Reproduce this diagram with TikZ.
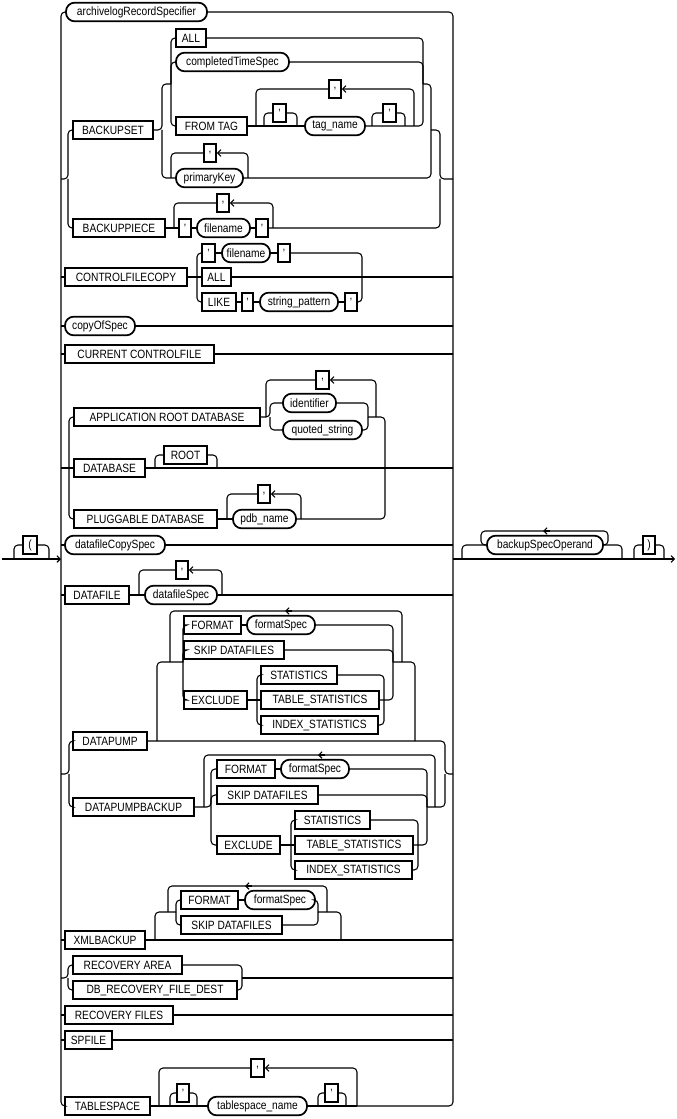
\documentclass[tikz,border=0pt]{standalone}
\usepackage{fontspec}
\setmainfont{Liberation Sans}[FakeStretch=0.85]
\usetikzlibrary{arrows.meta}
\newcommand\KW[5]{\node[kw,minimum width={(#3-#2)*0.75pt}] (#1) at ({(#2+#3)/2},#4) {#5};}
\newcommand\NT[5]{\node[nt,minimum width={(#3-#2)*0.75pt}] (#1) at ({(#2+#3)/2},#4) {#5};}
\begin{document}
\begin{tikzpicture}[x=0.75pt,y=-0.75pt,
  kw/.style={draw,line width=1.3pt,rectangle,inner sep=1pt,minimum height=14pt,font=\fontsize{9}{10}\selectfont,fill=white},
  nt/.style={draw,line width=1.3pt,rectangle,rounded corners=6.5pt,inner sep=1pt,minimum height=14pt,font=\fontsize{9}{10}\selectfont,fill=white},
  ln/.style={line width=0.8pt,rounded corners=3pt},
  back/.style={ln,-{Straight Barb[length=2.5pt,width=5pt]}},
  fwd/.style={ln,-{Straight Barb[length=2.5pt,width=5pt]}}]
\useasboundingbox (0,0) rectangle (676,1119);
% ---------- nodes ----------
\NT{arch}{66}{207}{12}{archivelogRecordSpecifier}
\KW{bset}{73}{153}{130}{BACKUPSET}
\KW{all}{176}{206}{38}{ALL}
\NT{cts}{176}{289}{62}{completedTimeSpec}
\KW{ft}{176}{247}{126}{FROM TAG}
\KW{q1}{273}{286}{113}{'}
\NT{tn}{305}{365}{126}{tag\_name}
\KW{q2}{383}{396}{113}{'}
\KW{cm1}{329}{341}{89}{,}
\NT{pk}{176}{243}{178}{primaryKey}
\KW{cm2}{204}{216}{153}{,}
\KW{bpiece}{73}{165}{228}{BACKUPPIECE}
\KW{bq1}{179}{191}{228}{'}
\NT{bfn}{197}{250}{228}{filename}
\KW{bq2}{256}{268}{228}{'}
\KW{cm3}{217}{229}{203}{,}
\KW{cfc}{65}{187}{277}{CONTROLFILECOPY}
\KW{cq1}{202}{215}{253}{'}
\NT{cfn}{222}{270}{253}{filename}
\KW{cq2}{278}{290}{253}{'}
\KW{call}{202}{231}{277}{ALL}
\KW{like}{202}{236}{302}{LIKE}
\KW{lq1}{242}{253}{302}{'}
\NT{sp}{260}{338}{302}{string\_pattern}
\KW{lq2}{345}{357}{302}{'}
\NT{cos}{65}{135}{326}{copyOfSpec}
\KW{ccf}{65}{214}{354}{CURRENT CONTROLFILE}
\KW{app}{74}{260}{417}{APPLICATION ROOT DATABASE}
\NT{ident}{283}{336}{403}{identifier}
\NT{qs}{283}{362}{430}{quoted\_string}
\KW{cm4}{316}{329}{380}{,}
\KW{db}{74}{145}{468}{DATABASE}
\KW{root}{164}{207}{455}{ROOT}
\KW{pdb}{74}{217}{519}{PLUGGABLE DATABASE}
\NT{pdbn}{233}{296}{519}{pdb\_name}
\KW{cm5}{258}{270}{494}{,}
\NT{dcs}{65}{165}{545}{datafileCopySpec}
\KW{lp}{23}{37}{545}{(}
\NT{bso}{487}{603}{545}{backupSpecOperand}
\KW{rp}{643}{655}{545}{)}
\KW{df}{65}{129}{595}{DATAFILE}
\NT{dfs}{145}{217}{595}{datafileSpec}
\KW{cm6}{176}{188}{570}{,}
\KW{dp}{73}{147}{741}{DATAPUMP}
\KW{fmt1}{184}{241}{625}{FORMAT}
\NT{fs1}{247}{315}{625}{formatSpec}
\KW{skip1}{184}{284}{650}{SKIP DATAFILES}
\KW{exc1}{184}{247}{700}{EXCLUDE}
\KW{st1}{261}{337}{675}{STATISTICS}
\KW{ts1}{261}{379}{700}{TABLE\_STATISTICS}
\KW{is1}{261}{378}{725}{INDEX\_STATISTICS}
\KW{dpb}{73}{194}{807}{DATAPUMPBACKUP}
\KW{fmt2}{217}{275}{769}{FORMAT}
\NT{fs2}{281}{349}{769}{formatSpec}
\KW{skip2}{217}{318}{795}{SKIP DATAFILES}
\KW{exc2}{217}{280}{845}{EXCLUDE}
\KW{st2}{295}{370}{820}{STATISTICS}
\KW{ts2}{295}{413}{845}{TABLE\_STATISTICS}
\KW{is2}{295}{412}{870}{INDEX\_STATISTICS}
\KW{xml}{65}{145}{940}{XMLBACKUP}
\KW{fmt3}{181}{238}{900}{FORMAT}
\NT{fs3}{245}{315}{900}{formatSpec}
\KW{skip3}{181}{282}{925}{SKIP DATAFILES}
\KW{ra}{73}{182}{965}{RECOVERY AREA}
\KW{rfd}{73}{237}{990}{DB\_RECOVERY\_FILE\_DEST}
\KW{rf}{65}{173}{1015}{RECOVERY FILES}
\KW{spf}{65}{112}{1040}{SPFILE}
\KW{tsp}{65}{150}{1106}{TABLESPACE}
\KW{tq1}{177}{189}{1093}{'}
\NT{tsn}{208}{307}{1106}{tablespace\_name}
\KW{tq2}{325}{338}{1093}{'}
\KW{cm7}{251}{264}{1068}{,}
% ---------- connectors ----------
\begin{scope}[on background layer/.style={}]
\end{scope}
% spines
\draw[ln] (arch.west) -| (61,600) |- (tsp.west);
\draw[ln] (arch.east) -| (453,600) |- (357,1106);
% entry / exit
\draw[fwd] (2,559) -- (61,559);
\draw[ln] (14,559) |- (lp.west);
\draw[ln] (lp.east) -| (49,559);
\draw[fwd] (453,559) -- (675,559);
\draw[ln] (462,559) |- (bso.west);
\draw[ln] (bso.east) -| (622,559);
\draw[ln] (bso.east) -- (608,545) |- (481,531) |- (bso.west);
\draw[back] (550,531) -- (543,531);
\draw[ln] (634,559) |- (rp.west);
\draw[ln] (rp.east) -| (664,559);
% BACKUPSET / BACKUPPIECE
\draw[ln] (61,179) -- (68,179) |- (bset.west);
\draw[ln] (68,179) |- (bpiece.west);
\draw[ln] (bset.east) -- (162,130) |- (171,84);
\draw[ln] (162,130) |- (pk.west);
\draw[ln] (171,84) |- (all.west);
\draw[ln] (171,84) |- (cts.west);
\draw[ln] (171,84) |- (ft.west);
\draw[ln] (all.east) -| (423,84);
\draw[ln] (cts.east) -| (423,84);
\draw[ln] (ft.east) -- (tn.west);
\draw[ln] (264,126) |- (q1.west);
\draw[ln] (q1.east) -| (297,126);
\draw[ln] (tn.east) -- (414,126) -| (423,84);
\draw[ln] (372,126) |- (q2.west);
\draw[ln] (q2.east) -| (405,126);
\draw[back] (414,126) |- (cm1.east);
\draw[ln] (cm1.west) -| (256,126);
\draw[ln] (423,84) -| (431,130);
\draw[ln] (pk.east) -| (431,130);
\draw[ln] (431,130) -| (440,179) -- (453,179);
\draw[back] (248,178) |- (cm2.east);
\draw[ln] (cm2.west) -| (171,178);
\draw[ln] (bpiece.east) -- (bq1.west);
\draw[ln] (bq1.east) -- (bfn.west);
\draw[ln] (bfn.east) -- (bq2.west);
\draw[ln] (bq2.east) -| (440,179);
\draw[back] (273,228) |- (cm3.east);
\draw[ln] (cm3.west) -| (174,228);
% CONTROLFILECOPY
\draw[ln] (61,277) -- (cfc.west);
\draw[ln] (cfc.east) -- (call.west);
\draw[ln] (call.east) -- (453,277);
\draw[ln] (197,277) |- (cq1.west);
\draw[ln] (197,277) |- (like.west);
\draw[ln] (cq1.east) -- (cfn.west);
\draw[ln] (cfn.east) -- (cq2.west);
\draw[ln] (cq2.east) -| (362,277);
\draw[ln] (like.east) -- (lq1.west);
\draw[ln] (lq1.east) -- (sp.west);
\draw[ln] (sp.east) -- (lq2.west);
\draw[ln] (lq2.east) -| (362,277);
% simple rows
\draw[ln] (61,326) -- (cos.west);
\draw[ln] (cos.east) -- (453,326);
\draw[ln] (61,354) -- (ccf.west);
\draw[ln] (ccf.east) -- (453,354);
\draw[ln] (61,545) -- (dcs.west);
\draw[ln] (dcs.east) -- (453,545);
% APPLICATION / DATABASE / PLUGGABLE
\draw[ln] (61,468) -- (db.west);
\draw[ln] (69,468) |- (app.west);
\draw[ln] (69,468) |- (pdb.west);
\draw[ln] (db.east) -- (453,468);
\draw[ln] (155,468) |- (root.west);
\draw[ln] (root.east) -| (217,468);
\draw[ln] (app.east) -- (270,417) |- (ident.west);
\draw[ln] (270,417) |- (qs.west);
\draw[ln] (ident.east) -| (368,417);
\draw[ln] (qs.east) -| (368,417);
\draw[back] (376,417) |- (cm4.east);
\draw[ln] (cm4.west) -| (266,417);
\draw[ln] (368,417) -| (385,468);
\draw[ln] (pdb.east) -- (pdbn.west);
\draw[ln] (pdbn.east) -| (385,468);
\draw[back] (301,519) |- (cm5.east);
\draw[ln] (cm5.west) -| (227,519);
% DATAFILE
\draw[ln] (61,595) -- (df.west);
\draw[ln] (df.east) -- (dfs.west);
\draw[ln] (dfs.east) -- (453,595);
\draw[back] (222,595) |- (cm6.east);
\draw[ln] (cm6.west) -| (139,595);
% DATAPUMP
\draw[ln] (61,774) -- (69,774) |- (dp.west);
\draw[ln] (69,774) |- (dpb.west);
\draw[ln] (dp.east) -| (445,774) -- (453,774);
\draw[ln] (157,741) |- (183,662);
\draw[ln] (183,662) |- (fmt1.west);
\draw[ln] (183,662) |- (skip1.west);
\draw[ln] (183,662) |- (exc1.west);
\draw[ln] (fmt1.east) -- (fs1.west);
\draw[ln] (fs1.east) -| (393,662);
\draw[ln] (skip1.east) -| (393,662);
\draw[ln] (exc1.east) -- (ts1.west);
\draw[ln] (257,700) |- (st1.west);
\draw[ln] (257,700) |- (is1.west);
\draw[ln] (st1.east) -| (384,700);
\draw[ln] (is1.east) -| (384,700);
\draw[ln] (ts1.east) -| (393,662);
\draw[ln] (393,662) -| (415,741);
\draw[ln] (402,662) |- (287,611) -| (170,662);
\draw[back] (292,611) -- (285,611);
% DATAPUMPBACKUP
\draw[ln] (dpb.east) -- (211,807) |- (fmt2.west);
\draw[ln] (211,807) |- (skip2.west);
\draw[ln] (211,807) |- (exc2.west);
\draw[ln] (fmt2.east) -- (fs2.west);
\draw[ln] (fs2.east) -| (427,807);
\draw[ln] (skip2.east) -| (427,807);
\draw[ln] (exc2.east) -- (ts2.west);
\draw[ln] (291,845) |- (st2.west);
\draw[ln] (291,845) |- (is2.west);
\draw[ln] (st2.east) -| (418,845);
\draw[ln] (is2.east) -| (418,845);
\draw[ln] (ts2.east) -| (427,807);
\draw[ln] (427,807) -| (445,774);
\draw[ln] (435,807) |- (320,755) -| (204,807);
\draw[back] (325,755) -- (318,755);
% XMLBACKUP
\draw[ln] (61,940) -- (xml.west);
\draw[ln] (xml.east) -- (453,940);
\draw[ln] (155,940) |- (176,912);
\draw[ln] (176,912) |- (fmt3.west);
\draw[ln] (176,912) |- (skip3.west);
\draw[ln] (fmt3.east) -- (fs3.west);
\draw[ln] (fs3.east) -| (318,912);
\draw[ln] (skip3.east) -| (318,912);
\draw[ln] (318,912) -| (341,940);
\draw[ln] (327,912) |- (247,886) -| (168,912);
\draw[back] (252,886) -- (245,886);
% RECOVERY
\draw[ln] (61,978) -- (68,978) |- (ra.west);
\draw[ln] (68,978) |- (rfd.west);
\draw[ln] (ra.east) -| (242,978);
\draw[ln] (rfd.east) -| (242,978);
\draw[ln] (242,978) -- (453,978);
\draw[ln] (61,1015) -- (rf.west);
\draw[ln] (rf.east) -- (453,1015);
\draw[ln] (61,1040) -- (spf.west);
\draw[ln] (spf.east) -- (453,1040);
% TABLESPACE
\draw[ln] (tsp.east) -- (tsn.west);
\draw[ln] (tsn.east) -- (357,1106);
\draw[ln] (170,1106) |- (tq1.west);
\draw[ln] (tq1.east) -| (197,1106);
\draw[ln] (318,1106) |- (tq2.west);
\draw[ln] (tq2.east) -| (346,1106);
\draw[back] (357,1106) |- (cm7.east);
\draw[ln] (cm7.west) -| (159,1106);
\end{tikzpicture}
\end{document}
